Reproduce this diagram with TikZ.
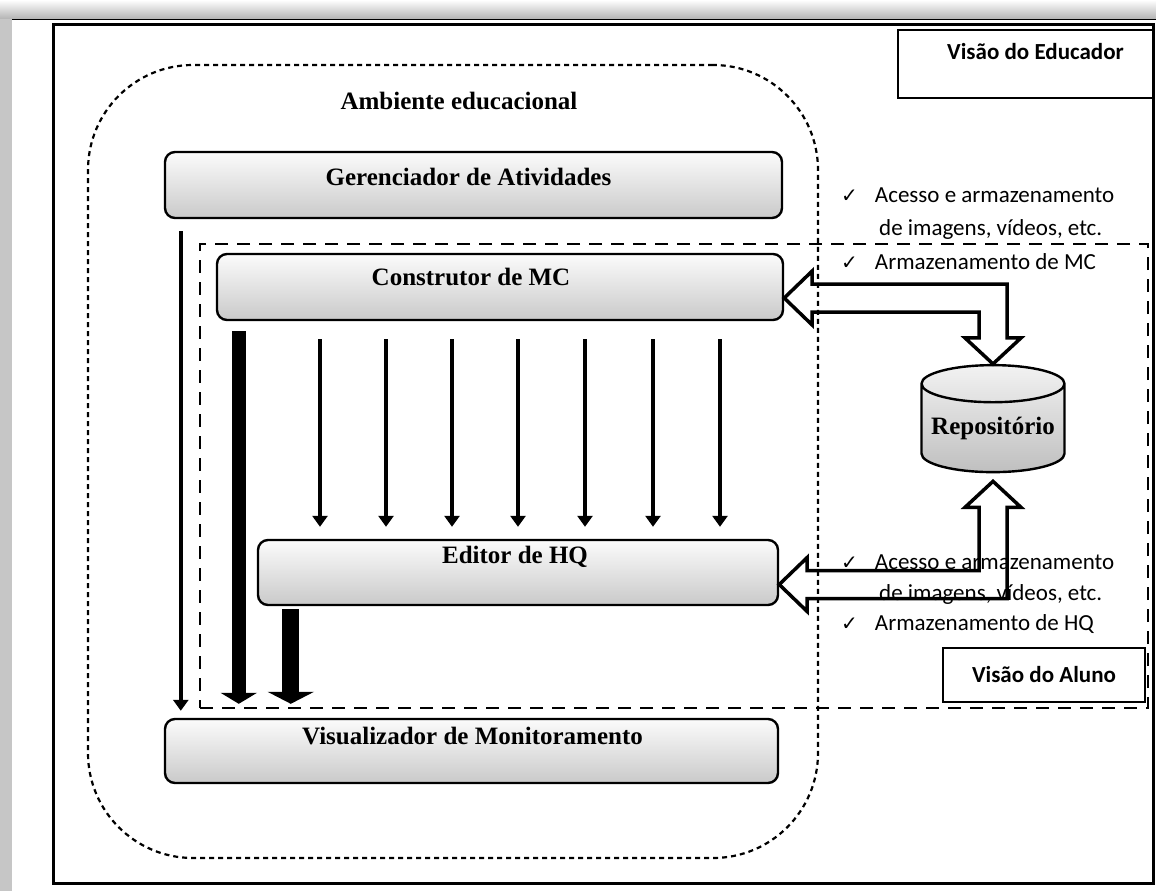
\documentclass[tikz,border=0pt]{standalone}
\usepackage{fontspec}
\setmainfont{Liberation Serif}
\newfontfamily\calibri{Carlito}
\newfontfamily\symfont{DejaVu Sans}
\usetikzlibrary{shapes,shapes.geometric,positioning,calc,arrows.meta}
\tikzstyle{every node}=[inner sep=0pt]
\tikzstyle{modbox}=[draw,line width=2.4pt,rounded corners=10pt,top color=gray!3,bottom color=gray!42]
\tikzstyle{modtext}=[font=\fontsize{25}{29}\selectfont\bfseries]
\tikzstyle{viewbox}=[draw,line width=2pt]
\tikzstyle{viewtext}=[font=\calibri\fontsize{23}{27}\selectfont\bfseries]
\tikzstyle{checktext}=[anchor=west,font=\calibri\fontsize{23}{27}\selectfont]
\tikzstyle{thinarrow}=[line width=3.5pt,-{Triangle[width=15pt,length=11pt]}]
\tikzstyle{fatarrow}=[line width=14pt,-{Triangle[width=36pt,length=11pt]}]
\tikzstyle{fatterarrow}=[line width=17pt,-{Triangle[width=46pt,length=12pt]}]
\tikzstyle{blockarrow}=[draw,line width=3.5pt,fill=white,line join=miter]
\newcommand{\chk}{{\symfont\fontsize{20}{24}\selectfont\char"2713}}

\begin{document}
\begin{tikzpicture}[x=1pt,y=-1pt]
  \useasboundingbox (0,0) rectangle (1156,891);
  % shadow and frame
  \shade[top color=white,bottom color=gray!60] (0,0) rectangle (1156,19);
  \fill[gray!45] (0,19) rectangle (12,891);
  \draw[line width=1pt] (12,20) -- (1156,20);
  \draw[line width=3pt] (53,25) rectangle (1153,883);

  % views
  \node[viewbox,minimum width=255pt,minimum height=68pt,
        label={[viewtext,xshift=10pt,yshift=-31pt]north:Visão do Educador}] (educ) at (1025.5,64) {};
  \node[draw,dash pattern=on 13pt off 9pt,line width=2.5pt,
        minimum width=948pt,minimum height=464pt] (aluno) at (674,476) {};
  \node[viewbox,viewtext,minimum width=202pt,minimum height=54pt,fill=white] (alunolbl) at (1044,675)
        {Visão do Aluno};

  % modules
  \node[modbox,minimum width=617pt,minimum height=66pt,
        label={[modtext,xshift=-5pt,yshift=8pt]center:Gerenciador de Atividades}] (ger) at (473.5,185) {};
  \node[modbox,minimum width=566pt,minimum height=66pt,
        label={[modtext,xshift=-29pt,yshift=10pt]center:Construtor de MC}] (mc) at (500,287) {};
  \node[modbox,minimum width=520pt,minimum height=65pt,
        label={[modtext,xshift=-3pt,yshift=16pt]center:Editor de HQ}] (hq) at (518,572.5) {};
  \node[modbox,minimum width=613pt,minimum height=64pt,
        label={[modtext,xshift=1pt,yshift=15pt]center:Visualizador de Monitoramento}] (vis) at (471.5,751) {};
  \node[cylinder,shape border rotate=90,aspect=0.3,draw,line width=2.4pt,
        minimum width=143pt,minimum height=107pt,top color=gray!10,bottom color=gray!50,
        font=\fontsize{25}{29}\selectfont\bfseries] (repo) at (993,428.5) {Repositório};

  % flows
  \draw[thinarrow] ([shift={(17,12)}]ger.south west) -- ([shift={(17,-7)}]vis.north west);
  \draw[fatarrow] ([shift={(23,10)}]mc.south west) -- ([shift={(75,-14)}]vis.north west);
  \draw[fatterarrow] ([shift={(34,3)}]hq.south west) -- ([shift={(127,-14)}]vis.north west);
  \foreach \x in {320,386,452,518,585,653,720}
    \draw[thinarrow] ([yshift=-18pt]mc.south -| \x,0) -- ([yshift=12pt]hq.north -| \x,0);

  % repository access
  \coordinate (t1) at ([yshift=-11pt]mc.east);
  \coordinate (t2) at (repo.north);
  \coordinate (t3) at ([yshift=-12pt]hq.east);
  \coordinate (t4) at ([yshift=-8pt]repo.south);
  \path[blockarrow] (t1) -- ++(28,-27) -- ++(0,13) -- ($(t2 |- t1)+(14,-14)$)
    -- ($(t2)+(14,-26)$) -- ++(14,0) -- (t2) -- ($(t2)+(-28,-26)$) -- ++(14,0)
    -- ($(t2 |- t1)+(-14,14)$) -- ($(t1)+(28,14)$) -- ++(0,13) -- cycle;
  \path[blockarrow] (t3) -- ++(28,-27) -- ++(0,13) -- ($(t4 |- t3)+(-14,-14)$)
    -- ($(t4)+(-14,26)$) -- ++(-14,0) -- (t4) -- ($(t4)+(28,26)$) -- ++(-14,0)
    -- ($(t4 |- t3)+(14,14)$) -- ($(t3)+(28,14)$) -- ++(0,13) -- cycle;

  % environment
  \node[draw,dash pattern=on 5pt off 4pt,line width=2.2pt,rounded corners=105pt,
        minimum width=730pt,minimum height=793pt] (amb) at (453,461.5) {};
  \node[modtext] (ambtitle) at (459,101) {Ambiente educacional};

  % check lists
  \node[checktext] (mca) at (841,195) {\chk\hspace{17pt}Acesso e armazenamento};
  \node[checktext] (mcb) at (879,229) {de imagens, vídeos, etc.};
  \node[checktext] (mcc) at (841,262) {\chk\hspace{17pt}Armazenamento de MC};
  \node[checktext] (hqa) at (841,562) {\chk\hspace{17pt}Acesso e armazenamento};
  \node[checktext] (hqb) at (879,594) {de imagens, vídeos, etc.};
  \node[checktext] (hqc) at (841,624) {\chk\hspace{17pt}Armazenamento de HQ};
\end{tikzpicture}
\end{document}
